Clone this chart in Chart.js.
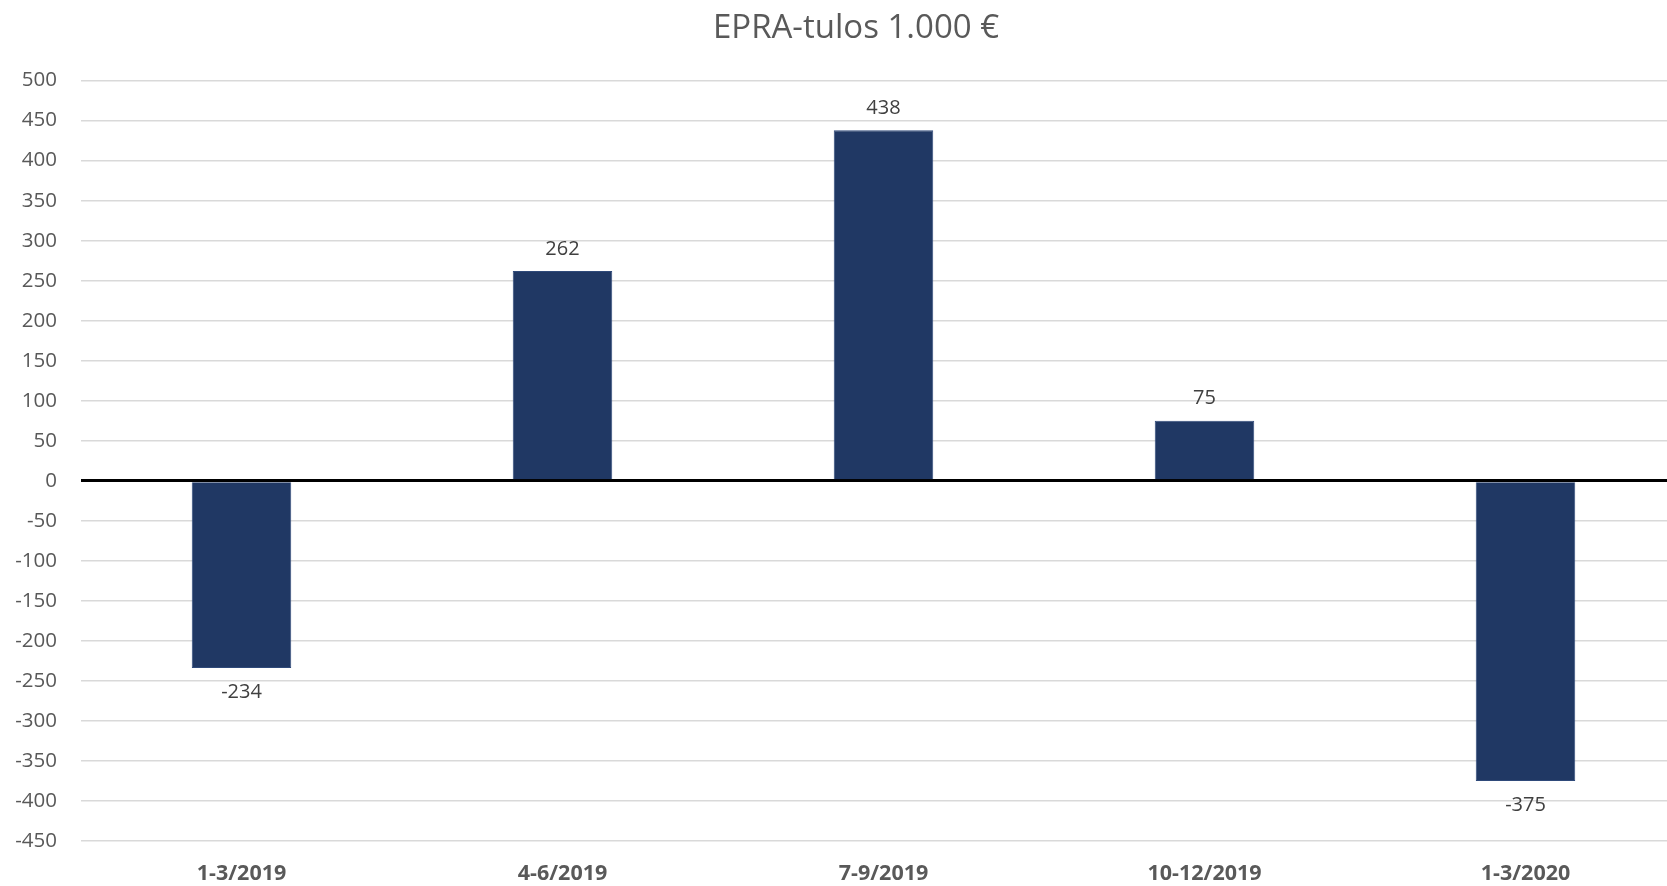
<!DOCTYPE html>
<html>
<head>
<meta charset="utf-8">
<script src="https://cdn.jsdelivr.net/npm/chart.js@4"></script>
<style>
  html, body { margin: 0; padding: 0; background: #fff; overflow: hidden; }
  #wrap { width: 1710px; height: 886px; }
</style>
</head>
<body>
<div id="wrap"><canvas id="chart" width="1710" height="886"></canvas></div>
<script>
// Data
const categories = ['1-3/2019', '4-6/2019', '7-9/2019', '10-12/2019', '1-3/2020'];
const epraValues = [-234, 262, 438, 75, -375];
const yMin = -450;
const yMax = 500;
const yStep = 50;

const barColor = '#203864';
const textColor = '#595959';
const font = "'Open Sans', 'Noto Sans', sans-serif";

// draws value labels above / below bars
const valueLabels = {
  id: 'valueLabels',
  afterLayout(chart) {
    // the original title sits a little right of the canvas centre
    if (chart.titleBlock) {
      chart.titleBlock.left += 13;
      chart.titleBlock.right += 13;
    }
  },
  afterDatasetsDraw(chart) {
    const ctx = chart.ctx;
    const meta = chart.getDatasetMeta(0);
    ctx.save();
    ctx.font = `20px ${font}`;
    ctx.fillStyle = '#404040';
    ctx.textAlign = 'center';
    ctx.textBaseline = 'middle';
    meta.data.forEach((bar, i) => {
      const v = epraValues[i];
      const y = v >= 0 ? bar.y - 22 : bar.y + 24;
      ctx.fillText(String(v), bar.x, y);
    });
    ctx.restore();
  }
};

new Chart(document.getElementById('chart'), {
  type: 'bar',
  data: {
    labels: categories,
    datasets: [{
      data: epraValues,
      backgroundColor: barColor,
      borderColor: '#2f4a7a',
      borderWidth: 1,
      barPercentage: 1,
      categoryPercentage: 0.31
    }]
  },
  options: {
    responsive: false,
    animation: false,
    layout: { padding: { left: 0, right: 24, top: 0, bottom: 0 } },
    plugins: {
      legend: { display: false },
      tooltip: { enabled: false },
      title: {
        display: true,
        text: 'EPRA-tulos 1.000 €',
        color: textColor,
        font: { family: font, size: 33, weight: 'normal' },
        padding: { top: 9, bottom: 32 }
      }
    },
    scales: {
      x: {
        grid: { display: false },
        border: { display: false },
        ticks: {
          color: textColor,
          font: { family: font, size: 21.5, weight: 'bold' },
          padding: 12,
          maxRotation: 0
        },
        afterFit(scale) { scale.height = 45; }
      },
      y: {
        min: yMin,
        max: yMax,
        border: { display: false },
        grid: {
          drawTicks: false,
          color: (c) => c.tick && c.tick.value === 0 ? '#000000' : '#d9d9d9',
          lineWidth: (c) => c.tick && c.tick.value === 0 ? 3 : 1.5
        },
        ticks: {
          stepSize: yStep,
          color: textColor,
          font: { family: font, size: 20.5 },
          padding: 24
        },
        afterFit(scale) { scale.width = 81; }
      }
    }
  },
  plugins: [valueLabels]
});
</script>
</body>
</html>
